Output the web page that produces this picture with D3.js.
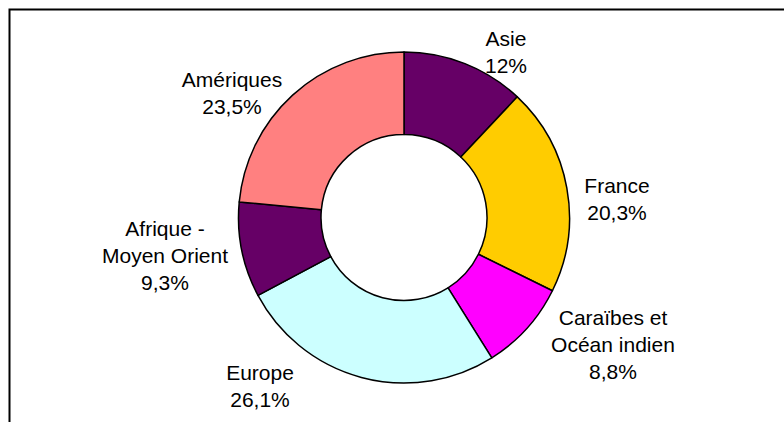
<!DOCTYPE html>
<html>
<head>
<meta charset="utf-8">
<script src="https://cdn.jsdelivr.net/npm/d3@7"></script>
<style>
  html, body { margin: 0; padding: 0; background: #fff; }
  svg { display: block; }
  text { font-family: Arial, "Liberation Sans", sans-serif; fill: #000; }
</style>
</head>
<body>
<svg id="chart" width="784" height="422"></svg>
<script>
// Regions and their shares (%), clockwise from the top
const regions = ["Asie", "France", "Caraïbes et Océan indien", "Europe", "Afrique - Moyen Orient", "Amériques"];
const shares = [12, 20.3, 8.8, 26.1, 9.3, 23.5];
const labelLines = [["Asie"], ["France"], ["Caraïbes et", "Océan indien"], ["Europe"], ["Afrique -", "Moyen Orient"], ["Amériques"]];
const shareText = ["12%", "20,3%", "8,8%", "26,1%", "9,3%", "23,5%"];
const colors = ["#660066", "#FFCC00", "#FF00FF", "#CCFFFF", "#660066", "#FF8080"];

const W = 784, H = 422;
const cx = 404, cy = 217.5;
const outerR = 165.5, innerR = 83;

// Label anchors (centre x, baseline of first line)
const labelPos = [
  [506, 46], [617, 193], [613, 325], [260, 380], [165, 236], [232, 87]
];
const lineH = 27;

const svg = d3.select("#chart");

// Frame
svg.append("rect")
  .attr("x", 9.5).attr("y", 9.5)
  .attr("width", 800).attr("height", 430)
  .attr("fill", "none").attr("stroke", "#000").attr("stroke-width", 2);

const data = regions.map((r, i) => ({ region: r, value: shares[i], color: colors[i], lines: labelLines[i].concat([shareText[i]]), pos: labelPos[i] }));

const pie = d3.pie().value(d => d.value).sort(null).startAngle(0).endAngle(2 * Math.PI);
const arc = d3.arc().innerRadius(innerR).outerRadius(outerR);

const g = svg.append("g").attr("transform", `translate(${cx},${cy})`);
g.selectAll("path")
  .data(pie(data))
  .join("path")
  .attr("d", arc)
  .attr("fill", d => d.data.color)
  .attr("stroke", "#000")
  .attr("stroke-width", 1.5)
  .attr("stroke-linejoin", "round");

// Labels
const labels = svg.selectAll("text.lbl")
  .data(data)
  .join("text")
  .attr("class", "lbl")
  .attr("text-anchor", "middle")
  .attr("font-size", 21);

labels.selectAll("tspan")
  .data(d => d.lines.map((t, k) => ({ t, k, pos: d.pos })))
  .join("tspan")
  .attr("x", d => d.pos[0])
  .attr("y", d => d.pos[1] + d.k * lineH)
  .text(d => d.t);
</script>
</body>
</html>
